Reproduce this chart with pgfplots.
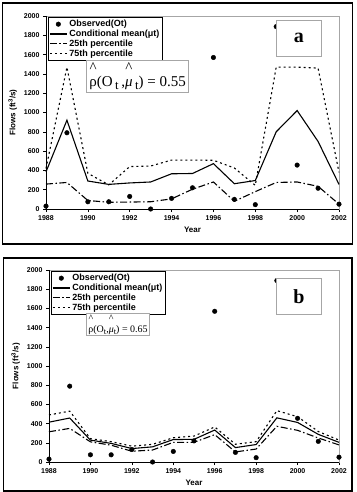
\documentclass[border=0pt]{standalone}
\usepackage{pgfplots}
\pgfplotsset{compat=1.18}
\usepackage{fontspec}
\setmainfont{Liberation Sans}
\newfontfamily\serif{Liberation Serif}

% observed flows, shared by both panels
\pgfplotstableread{
year obs
1988 30
1989 790
1990 75
1991 75
1992 130
1993 0
1994 110
1995 220
1996 1570
1997 100
1998 45
1999 1890
2000 455
2001 215
2002 50
}\observed

% panel a: conditional mean and percentiles
\pgfplotstableread{
year mean p25 p75
1988 385 258 420
1989 920 275 1470
1990 290 88 370
1991 255 70 250
1992 270 72 440
1993 280 75 445
1994 365 105 507
1995 368 205 507
1996 470 280 505
1997 262 80 425
1998 295 180 245
1999 800 275 1470
2000 1020 280 1470
2001 700 235 1460
2002 255 50 380
}\panela

% panel b: conditional mean and percentiles
\pgfplotstableread{
year mean p25 p75
1988 415 315 490
1989 458 350 530
1990 228 210 243
1991 194 175 212
1992 140 112 165
1993 158 125 184
1994 234 205 253
1995 236 205 270
1996 333 285 365
1997 150 105 185
1998 182 135 212
1999 460 372 535
2000 412 330 472
2001 288 250 318
2002 205 178 228
}\panelb

\pgfplotsset{
  panel/.style={
    scale only axis, clip=false,
    xmin=1988, xmax=2002, ymin=0, ymax=2000,
    xtick={1988,1990,...,2002}, ytick={0,200,...,2000},
    tick align=outside, xtick pos=bottom, ytick pos=left,
    major tick length=3pt,
    tick style={black, line width=0.6pt},
    axis line style={draw=gray!70, line width=0.5pt},
    /pgf/number format/1000 sep={},
    /pgf/number format/assume math mode=true,
    tick label style={font=\bfseries\fontsize{7}{8}\selectfont},
    label style={font=\bfseries\fontsize{8}{9}\selectfont},
    xlabel={Year}, ylabel={Flows (ft\textsuperscript{3}/s)},
    legend cell align=left,
    legend style={font=\bfseries\fontsize{9}{8.5}\selectfont,
      draw=black, fill=white, inner sep=1pt, row sep=-2.2pt,
      at={(rel axis cs:0.007,0.995)}, anchor=north west},
  },
  obsstyle/.style={only marks, mark=*, mark size=2.3pt, black},
  meanstyle/.style={no marks, black, line width=1.1pt},
  lowstyle/.style={no marks, black, line width=1.1pt,
    dash pattern=on 7pt off 2.5pt on 1.5pt off 2.5pt},
  highstyle/.style={no marks, black, line width=1.1pt,
    dash pattern=on 2pt off 3pt},
}

% a caret set well above a symbol, and a lowered subscript t
\newcommand\caretover[2]{\shortstack{\raisebox{#2}{\textasciicircum}\\#1}}
\newcommand\subt[1]{\raisebox{-#1}{\scalebox{0.85}{t}}}

\begin{document}
\begin{tikzpicture}
\useasboundingbox (0pt,0pt) rectangle (356pt,-492pt);
% outer frames of the two panels
\draw[line width=1.6pt] (2.5pt,-3pt) rectangle (352.5pt,-244pt);
\draw[line width=1.6pt] (3.5pt,-258pt) rectangle (352pt,-491pt);

\begin{axis}[panel, at={(46pt,-209pt)}, anchor=south west,
  width=293pt, height=193pt]
  \draw[black, line width=0.9pt] (rel axis cs:0,1) -- (rel axis cs:0,0) -- (rel axis cs:1,0);
  \addplot[obsstyle] table[x=year, y=obs] {\observed};
  \addlegendentry{Observed(Ot)}
  \addplot[meanstyle] table[x=year, y=mean] {\panela};
  \addlegendentry{Conditional mean(μt)}
  \addplot[lowstyle] table[x=year, y=p25] {\panela};
  \addlegendentry{25th percentile}
  \addplot[highstyle] table[x=year, y=p75] {\panela};
  \addlegendentry{75th percentile}
\end{axis}

\begin{axis}[panel, at={(49pt,-462pt)}, anchor=south west,
  width=290pt, height=192pt]
  \draw[black, line width=0.9pt] (rel axis cs:0,1) -- (rel axis cs:0,0) -- (rel axis cs:1,0);
  \addplot[obsstyle] table[x=year, y=obs] {\observed};
  \addlegendentry{Observed(Ot)}
  \addplot[meanstyle] table[x=year, y=mean] {\panelb};
  \addlegendentry{Conditional mean(μt)}
  \addplot[lowstyle] table[x=year, y=p25] {\panelb};
  \addlegendentry{25th percentile}
  \addplot[highstyle] table[x=year, y=p75] {\panelb};
  \addlegendentry{75th percentile}
\end{axis}

% correlation boxes
\node[draw=gray!70, line width=0.8pt, fill=white, inner xsep=3pt, inner ysep=2.5pt,
  anchor=north west, font=\serif\fontsize{15}{12}\selectfont] at (86pt,-60pt)
  {\caretover{ρ}{4pt}(O\,\subt{3pt}\,,\caretover{\textit{μ}}{4pt}\,\subt{3pt}) = 0.55};
\node[draw=gray!70, line width=0.8pt, fill=white, inner xsep=2pt, inner ysep=1.5pt,
  anchor=north west, font=\serif\fontsize{10}{8}\selectfont] at (86pt,-313pt)
  {\caretover{ρ}{3pt}(O\subt{2pt},\caretover{\textit{μ}}{3pt}\subt{2pt}) = 0.65};

% panel letters
\node[draw=gray!70, line width=0.8pt, fill=white, minimum width=45pt, minimum height=36pt,
  anchor=north west, font=\serif\bfseries\fontsize{20}{20}\selectfont] at (276pt,-20pt) {a};
\node[draw=gray!70, line width=0.8pt, fill=white, minimum width=45pt, minimum height=36pt,
  anchor=north west, font=\serif\bfseries\fontsize{20}{20}\selectfont] at (276pt,-278pt) {b};
\end{tikzpicture}
\end{document}
